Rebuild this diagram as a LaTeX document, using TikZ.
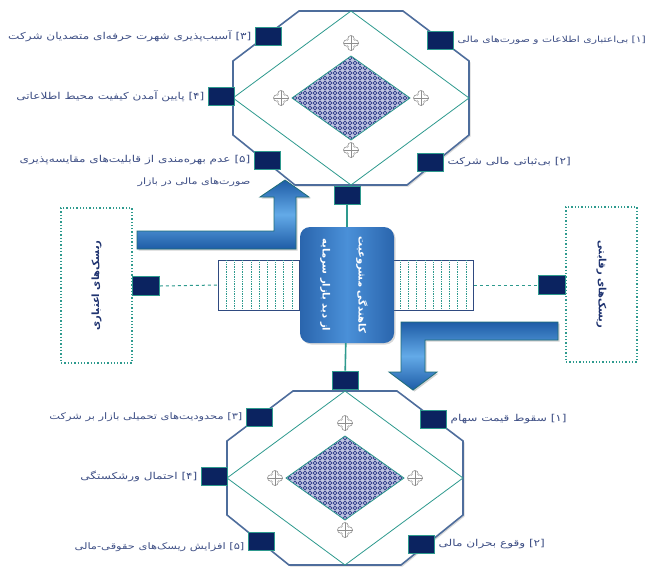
\documentclass[tikz,border=0pt]{standalone}
\usepackage{fontspec}
\setmainfont{DejaVu Sans}
\newfontfamily\fa[Script=Arabic]{DejaVu Sans}
\newfontfamily\fas[Script=Arabic, FakeStretch=1.27]{DejaVu Sans}
\TeXXeTstate=1
\usetikzlibrary{patterns.meta,shadows,calc}
\definecolor{navy}{HTML}{0B2360}
\definecolor{teal2}{HTML}{2E9A8E}
\definecolor{octc}{HTML}{4E6D9C}
\definecolor{labelc}{HTML}{3E4F85}
\definecolor{boxtxt}{HTML}{1F3370}
\definecolor{cb1}{HTML}{2A65AD}
\definecolor{cb2}{HTML}{4A90D8}
\definecolor{ar1}{HTML}{63AAE8}
\definecolor{ar2}{HTML}{1E5CA6}
\definecolor{arline}{HTML}{1D6D78}
\definecolor{hatchc}{HTML}{2F4A80}
\definecolor{patc}{HTML}{2E3C88}
\definecolor{patbg}{HTML}{BCC2E0}
\definecolor{ornc}{HTML}{8E8E8E}
\tikzdeclarepattern{name=rings, type=uncolored,
  bounding box={(-2.5pt,-2.5pt) and (2.5pt,2.5pt)},
  tile size={(5pt,5pt)},
  code={\draw[line width=0.6pt] (0pt,0pt) circle (1.9pt);}}
\tikzset{
  sq/.style={draw=teal2, fill=navy, line width=0.8pt, minimum width=26pt, minimum height=18pt, inner sep=0pt},
  lbl/.style={font=\fas\fontsize{9.5}{22}\selectfont, text=labelc, inner sep=0pt},
  dotbox/.style={draw=teal2, dotted, line width=1.3pt, minimum width=71pt, minimum height=155pt, fill=white},
  boxlbl/.style={font=\fa\bfseries\fontsize{10}{12}\selectfont, text=boxtxt, inner sep=0pt},
  hatchbox/.style={draw=hatchc, fill=white, line width=0.8pt, minimum width=81pt, minimum height=50pt, inner sep=0pt},
  conn/.style={teal2, dashed, line width=1pt},
  vline/.style={teal2, line width=1.6pt},
  arr/.style={draw=arline, line width=0.8pt, top color=ar2, bottom color=ar2, middle color=ar1,
     drop shadow={opacity=0.35, shadow xshift=1.5pt, shadow yshift=-1.5pt}},
  orn/.pic={
    \foreach \a in {0,90,180,270}{\draw[ornc, fill=white, line width=0.6pt, rotate=\a] (4.3,0) circle (3.2);}
    \fill[white] (-3,-3) rectangle (3,3);
    \draw[ornc, line width=0.6pt] (-7.5,0) -- (7.5,0) (0,-7.5) -- (0,7.5);
  }
}
\begin{document}
\begin{tikzpicture}[x=1pt,y=-1pt]
\useasboundingbox (0,0) rectangle (650,568);
\fill[white] (0,0) rectangle (650,568);

% octagons
\foreach \cx/\cy in {351/98, 345/478}{
  \draw[octc, line width=1.6pt, fill=white, drop shadow={opacity=0.3, shadow xshift=1.5pt, shadow yshift=-1.5pt}]
    (\cx-52,\cy-87) -- (\cx+52,\cy-87) -- (\cx+118,\cy-37) -- (\cx+118,\cy+37) -- (\cx+56,\cy+87)
    -- (\cx-56,\cy+87) -- (\cx-118,\cy+37) -- (\cx-118,\cy-37) -- cycle;
  \draw[teal2, line width=0.8pt] (\cx,\cy-87) -- (\cx+118,\cy) -- (\cx,\cy+87) -- (\cx-118,\cy) -- cycle;
  \fill[patbg] (\cx,\cy-42) -- (\cx+59,\cy) -- (\cx,\cy+42) -- (\cx-59,\cy) -- cycle;
  \fill[pattern=rings, pattern color=patc] (\cx,\cy-42) -- (\cx+59,\cy) -- (\cx,\cy+42) -- (\cx-59,\cy) -- cycle;
  \draw[teal2, line width=0.8pt] (\cx,\cy-42) -- (\cx+59,\cy) -- (\cx,\cy+42) -- (\cx-59,\cy) -- cycle;
  \pic at (\cx,\cy-55) {orn};
  \pic at (\cx+70,\cy) {orn};
  \pic at (\cx,\cy+52) {orn};
  \pic at (\cx-70,\cy) {orn};
}

% side boxes
\node[dotbox] (lbox) at (96.5,285.5) {};
\node[dotbox] (rbox) at (601.5,284.5) {};
\node[boxlbl, rotate=90] (lboxt) at (lbox.center) {\beginR ریسک‌های اعتباری\endR};
\node[boxlbl, rotate=-90] (rboxt) at (rbox.center) {\beginR ریسک‌های رقابتی\endR};

% hatched boxes
\node[hatchbox] (lh) at (259,285) {};
\node[hatchbox] (rh) at (433,285) {};
\foreach \h in {lh,rh}{
  \foreach \i in {1,...,9}{
    \draw[teal2, densely dotted, line width=0.7pt] ($(\h.north west)+(\i*8.2,0.8)$) -- ($(\h.south west)+(\i*8.2,-0.8)$);
  }
}

% arrows
\draw[arr] (137,231) -- (274,231) -- (274,197) -- (260,197) -- (285,180) -- (309,197) -- (296,197) -- (296,249) -- (137,249) -- cycle;
\draw[arr] (558,322) -- (401,322) -- (401,372) -- (389,372) -- (413,390) -- (437,372) -- (425,372) -- (425,340) -- (558,340) -- cycle;

% central box
\node[rounded corners=10pt, minimum width=94pt, minimum height=116pt, left color=cb1, right color=cb1, middle color=cb2,
      drop shadow={opacity=0.3, shadow xshift=1.5pt, shadow yshift=-1.5pt}] (cb) at (347,285) {};
\node[font=\fa\bfseries\fontsize{10}{36}\selectfont, text=white, rotate=-90, align=center, inner sep=0pt] (cbt) at (344,285)
  {\beginR کاهندگی مشروعیت\endR\\\beginR از دید بازار سرمایه\endR};

% squares
\node[sq] (t3) at (268,36) {};
\node[sq] (t4) at (221,96) {};
\node[sq] (t5) at (267,160) {};
\node[sq] (t1) at (440,40) {};
\node[sq] (t2) at (430,162) {};
\node[sq] (tb) at (347,195) {};
\node[sq] (b0) at (345,380) {};
\node[sq] (b3) at (259,417) {};
\node[sq] (b4) at (214,476) {};
\node[sq] (b5) at (261,541) {};
\node[sq] (b1) at (433,419) {};
\node[sq] (b2) at (421,544) {};
\node[sq, minimum width=27pt, minimum height=19pt] (lsq) at (146,286) {};
\node[sq, minimum width=27pt, minimum height=19pt] (rsq) at (552,285) {};

% connectors
\draw[vline] (tb) -- (cb);
\draw[vline] (cb) -- (b0);
\draw[conn] (lsq.east) -- (lh.west);
\draw[conn] (rh.east) -- (rsq.west);

% labels top
\node[lbl, anchor=east] (lt3) at ($(t3.west)+(-3,0)$) {\beginR [۳] آسیب‌پذیری شهرت حرفه‌ای متصدیان شرکت\endR};
\node[lbl, anchor=east] (lt4) at ($(t4.west)+(-3,0)$) {\beginR [۴] پایین آمدن کیفیت محیط اطلاعاتی\endR};
\node[lbl, anchor=north east, align=right] (lt5) at ($(t5.west)+(-3,-5)$) {\beginR [۵] عدم بهره‌مندی از قابلیت‌های مقایسه‌پذیری\endR\\\beginR\fontsize{8.8}{22}\selectfont صورت‌های مالی در بازار\endR};
\node[lbl, anchor=west, font=\fas\fontsize{8.5}{22}\selectfont] (lt1) at ($(t1.east)+(4,0)$) {\beginR [۱] بی‌اعتباری اطلاعات و صورت‌های مالی\endR};
\node[lbl, anchor=west] (lt2) at ($(t2.east)+(4,0)$) {\beginR [۲] بی‌ثباتی مالی شرکت\endR};
% labels bottom
\node[lbl, anchor=east, font=\fas\fontsize{9}{22}\selectfont] (lb3) at ($(b3.west)+(-3,0)$) {\beginR [۳] محدودیت‌های تحمیلی بازار بر شرکت\endR};
\node[lbl, anchor=east] (lb4) at ($(b4.west)+(-3,0)$) {\beginR [۴] احتمال ورشکستگی\endR};
\node[lbl, anchor=east, font=\fas\fontsize{9}{22}\selectfont] (lb5) at ($(b5.west)+(-3,6)$) {\beginR [۵] افزایش ریسک‌های حقوقی-مالی\endR};
\node[lbl, anchor=west] (lb1) at ($(b1.east)+(4,0)$) {\beginR [۱] سقوط قیمت سهام\endR};
\node[lbl, anchor=west] (lb2) at ($(b2.east)+(4,0)$) {\beginR [۲] وقوع بحران مالی\endR};
\end{tikzpicture}
\end{document}
